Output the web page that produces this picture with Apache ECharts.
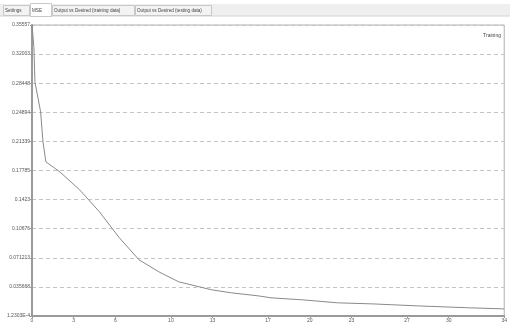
<!DOCTYPE html>
<html>
<head>
<meta charset="utf-8">
<script src="https://cdn.jsdelivr.net/npm/echarts@6/dist/echarts.min.js"></script>
<style>
html,body{margin:0;padding:0;background:#fff;}
#c{width:510px;height:325px;}
</style>
</head>
<body>
<div id="c"></div>
<script>
// ---- data ----
const tabNames = ['Settings', 'MSE', 'Output vs Desired (training data)', 'Output vs Desired (testing data)'];
const seriesName = 'Training';
const epochs = [0, 0.14, 0.21, 0.62, 0.79, 1.0, 1.5, 2, 3.43, 4.86, 6.29, 7.71, 9.14, 10.57, 12.93, 14.36, 16.29, 17.21, 19.5, 22, 24.5, 27.71, 31.5, 34];
const mse =    [0.3557, 0.3276, 0.2860, 0.2494, 0.2127, 0.1883, 0.1822, 0.1761, 0.1541, 0.1272, 0.0955, 0.0686, 0.0539, 0.0417, 0.0320, 0.0283, 0.0246, 0.0222, 0.0197, 0.0161, 0.0148, 0.0124, 0.0100, 0.0087];
const xTicks = [0, 3, 6, 10, 13, 17, 20, 23, 27, 30, 34];
const yTickLabels = ['1.2303E-4', '0.035668', '0.071213', '0.10676', '0.1423', '0.17785', '0.21339', '0.24894', '0.28448', '0.32003', '0.35557'];
const yStep = 0.035545;

const chart = echarts.init(document.getElementById('c'), null, {renderer: 'canvas'});
const font = 'Liberation Sans';

// tabs decoration
const tabX = [3, 30, 52, 135];
const tabW = [26, 21, 82, 76];
const graphics = [
  {type: 'rect', shape: {x: 0, y: 4, width: 510, height: 12}, style: {fill: '#efefef'}, silent: true},
  {type: 'line', shape: {x1: 0, y1: 16, x2: 510, y2: 16}, style: {stroke: '#d4d4d4', lineWidth: 1}, silent: true}
];
tabNames.forEach((t, i) => {
  const sel = i === 1;
  graphics.push({type: 'rect', shape: {x: tabX[i] + 0.5, y: sel ? 3.5 : 5.5, width: tabW[i], height: sel ? 13 : 10},
    style: {fill: sel ? '#ffffff' : '#f3f3f3', stroke: '#c8c8c8', lineWidth: 1}, silent: true});
  graphics.push({type: 'text', x: tabX[i] + 2, y: sel ? 8 : 8.5,
    style: {text: t, fontSize: 4.6, fontFamily: font, fill: '#444'}, silent: true});
});

chart.setOption({
  animation: false,
  backgroundColor: '#ffffff',
  graphic: graphics,
  grid: {left: 32, right: 4, top: 25, bottom: 9, show: true, borderColor: '#b0b0b0', borderWidth: 1, backgroundColor: 'transparent'},
  legend: {data: [seriesName], right: 7, top: 27, icon: 'none', itemWidth: 0, itemGap: 0, padding: 2,
    textStyle: {fontSize: 5, fontFamily: font, color: '#444'}},
  xAxis: {
    type: 'value', min: 0, max: 34,
    axisLine: {show: true, lineStyle: {color: '#9a9a9a', width: 2}},
    axisTick: {show: true, customValues: xTicks, length: 2, lineStyle: {color: '#9a9a9a'}},
    axisLabel: {customValues: xTicks, fontSize: 5, fontFamily: font, color: '#555', margin: 2},
    splitLine: {show: false}
  },
  yAxis: {
    type: 'value', min: 0, max: yStep * 10, interval: yStep,
    axisLine: {show: true, lineStyle: {color: '#9a9a9a', width: 2}},
    axisTick: {show: true, length: 2, lineStyle: {color: '#9a9a9a'}},
    axisLabel: {fontSize: 5, fontFamily: font, color: '#555', margin: 2,
      formatter: (v, i) => yTickLabels[i] !== undefined ? yTickLabels[i] : ''},
    splitLine: {show: true, lineStyle: {color: '#c4c4c4', type: [4, 3], width: 1}}
  },
  series: [{
    name: seriesName, type: 'line', showSymbol: false, symbol: 'none',
    data: epochs.map((e, i) => [e, mse[i]]),
    lineStyle: {color: '#8a8a8a', width: 1}, itemStyle: {color: '#8a8a8a'}
  }]
});
</script>
</body>
</html>
